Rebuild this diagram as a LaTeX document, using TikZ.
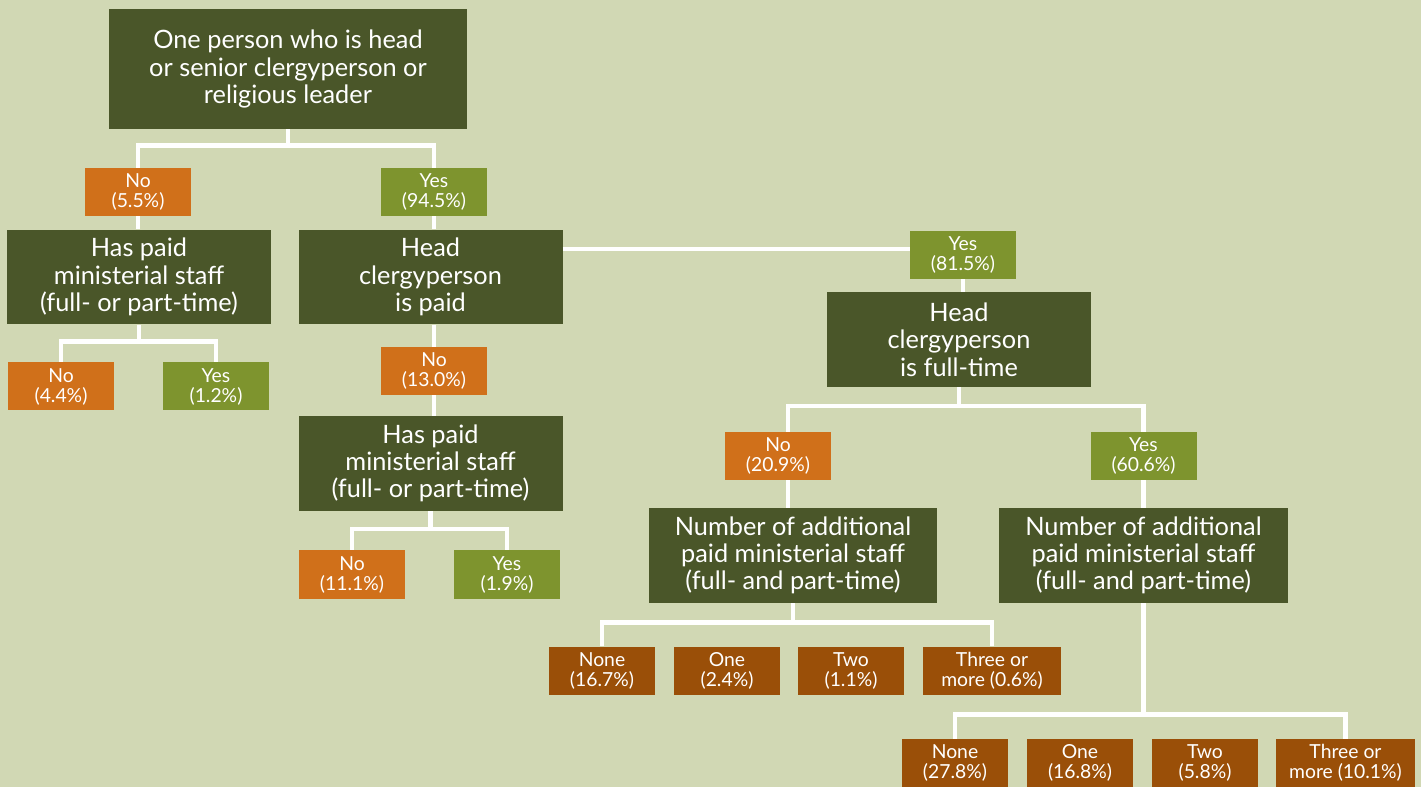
\documentclass[tikz,border=0pt]{standalone}
\usepackage{fontspec}
\setmainfont{Lato}
\definecolor{sage}{HTML}{D1D8B4}
\definecolor{moss}{HTML}{4A5629}
\definecolor{rust}{HTML}{D0701A}
\definecolor{yesgreen}{HTML}{7E942E}
\definecolor{umber}{HTML}{9A4F08}
\tikzset{
  askbox/.style={fill=moss, text=white, align=center, inner sep=0pt, minimum width=198pt, minimum height=71pt, font=\fontsize{19}{20.5}\selectfont},
  nobox/.style={fill=rust, text=white, align=center, inner sep=0pt, minimum width=79.5pt, minimum height=36pt, font=\fontsize{14.5}{15}\selectfont},
  yesbox/.style={fill=yesgreen, text=white, align=center, inner sep=0pt, minimum width=79.5pt, minimum height=36pt, font=\fontsize{14.5}{15}\selectfont},
  countbox/.style={fill=umber, text=white, align=center, inner sep=0pt, minimum width=79.5pt, minimum height=36pt, font=\fontsize{14.5}{15}\selectfont},
  branch/.style={draw=white, line width=3.6pt}
}
\begin{document}
\begin{tikzpicture}[x=0.75pt, y=-0.75pt]
  \fill[sage] (0,0) rectangle (1421,787);
  % question boxes
  \node[askbox, minimum width=268.5pt, minimum height=90pt] (root) at (288,69) {One person who is head\\or senior clergyperson or\\religious leader};
  \node[askbox] (staffA) at (139,277) {Has paid\\ministerial staff\\(full- or part-time)};
  \node[askbox] (headpaid) at (430.5,277) {Head\\clergyperson\\is paid};
  \node[askbox] (staffB) at (430.5,463.5) {Has paid\\ministerial staff\\(full- or part-time)};
  \node[askbox] (headfull) at (959,339.5) {Head\\clergyperson\\is full-time};
  \node[askbox, minimum width=216pt] (countA) at (793,555.5) {Number of additional\\paid ministerial staff\\(full- and part-time)};
  \node[askbox, minimum width=216.75pt] (countB) at (1143.5,555.5) {Number of additional\\paid ministerial staff\\(full- and part-time)};
  % answers
  \node[nobox] (no55) at (138,192) {No\\(5.5\%)};
  \node[yesbox] (yes945) at (434,192) {Yes\\(94.5\%)};
  \node[nobox] (no44) at (61,386.5) {No\\(4.4\%)};
  \node[yesbox] (yes12) at (216,386.5) {Yes\\(1.2\%)};
  \node[nobox] (no130) at (434,371) {No\\(13.0\%)};
  \node[nobox] (no111) at (352,574.5) {No\\(11.1\%)};
  \node[yesbox] (yes19) at (507,574.5) {Yes\\(1.9\%)};
  \node[yesbox] (yes815) at (963,255) {Yes\\(81.5\%)};
  \node[nobox] (no209) at (778,456) {No\\(20.9\%)};
  \node[yesbox] (yes606) at (1143.5,456) {Yes\\(60.6\%)};
  % counts
  \node[countbox] (noneA) at (602,670.5) {None\\(16.7\%)};
  \node[countbox] (oneA) at (727,670.5) {One\\(2.4\%)};
  \node[countbox] (twoA) at (851,670.5) {Two\\(1.1\%)};
  \node[countbox, minimum width=103.5pt] (threeA) at (992,670.5) {Three or\\more (0.6\%)};
  \node[countbox] (noneB) at (955,763) {None\\(27.8\%)};
  \node[countbox] (oneB) at (1080,763) {One\\(16.8\%)};
  \node[countbox] (twoB) at (1205,763) {Two\\(5.8\%)};
  \node[countbox, minimum width=104.25pt] (threeB) at (1345.5,763) {Three or\\more (10.1\%)};
  % branches
  \draw[branch] (root.south) -- ++(0,16) coordinate (rootbar) -| (no55.north);
  \draw[branch] (rootbar) -| (yes945.north);
  \draw[branch] (no55.south) -- (no55.south |- staffA.north);
  \draw[branch] (yes945.south) -- (yes945.south |- headpaid.north);
  \draw[branch] (staffA.south) -- ++(0,17) coordinate (staffAbar) -| (no44.north);
  \draw[branch] (staffAbar) -| (yes12.north);
  \draw[branch] (no130.north |- headpaid.south) -- (no130.north);
  \draw[branch] (no130.south) -- (no130.south |- staffB.north);
  \draw[branch] (staffB.south) -- ++(0,18) coordinate (staffBbar) -| (no111.north);
  \draw[branch] (staffBbar) -| (yes19.north);
  \coordinate (paidlink) at ([yshift=21pt]headpaid.east);
  \draw[branch] (paidlink) -- (paidlink -| yes815.west);
  \draw[branch] (yes815.south) -- (yes815.south |- headfull.north);
  \draw[branch] (headfull.south) -- ++(0,19) coordinate (fullbar) -| ([xshift=7.5pt]no209.north);
  \draw[branch] (fullbar) -| (yes606.north);
  \draw[branch] ([xshift=7.5pt]no209.south) -- ([xshift=7.5pt]no209.south |- countA.north);
  \draw[branch] (yes606.south) -- (yes606.south |- countB.north);
  \draw[branch] (countA.south) -- ++(0,19) coordinate (countAbar) -| (noneA.north);
  \draw[branch] (countAbar) -| (threeA.north);
  \draw[branch] (countB.south) -- ++(0,111) coordinate (countBbar) -| (noneB.north);
  \draw[branch] (countBbar) -| (threeB.north);
\end{tikzpicture}
\end{document}
